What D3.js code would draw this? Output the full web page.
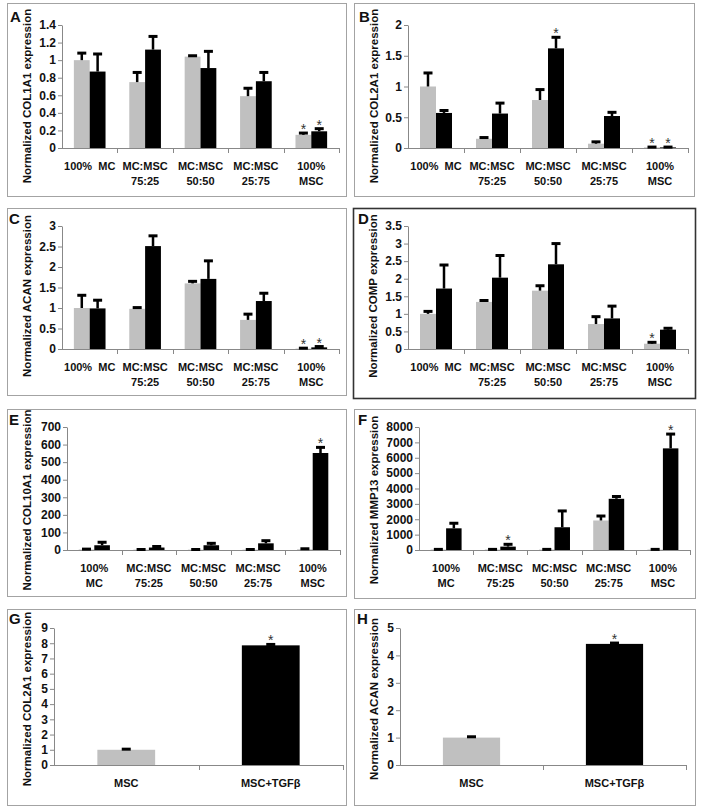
<!DOCTYPE html>
<html><head><meta charset="utf-8">
<script src="https://cdn.jsdelivr.net/npm/d3@7"></script>
<style>
body{margin:0;background:#fff}
svg{display:block}
text{font-family:Arial,"Liberation Sans",sans-serif}
</style>
</head><body>
<svg id="chart" width="701" height="809"></svg>
<script>
// ---------- categories ----------
const catsMixA = [["100%  MC"],["MC:MSC","75:25"],["MC:MSC","50:50"],["MC:MSC","25:75"],["100%","MSC"]];
const catsMixE = [["100%","MC"],["MC:MSC","75:25"],["MC:MSC","50:50"],["MC:MSC","25:75"],["100%","MSC"]];
const catsTGF = [["MSC"],["MSC+TGFβ"]];

// ---------- A: COL1A1 ----------
const aGrey = [1.00, 0.75, 1.04, 0.59, 0.15];
const aGreyErr = [0.08, 0.11, 0.01, 0.09, 0.02];
const aBlack = [0.87, 1.12, 0.91, 0.76, 0.19];
const aBlackErr = [0.20, 0.15, 0.19, 0.10, 0.03];
const aGreyStar = [0,0,0,0,1];
const aBlackStar = [0,0,0,0,1];
const aTicks = [0,0.2,0.4,0.6,0.8,1,1.2,1.4];
const aTickLabels = ["0","0.2","0.4","0.6","0.8","1","1.2","1.4"];

// ---------- B: COL2A1 ----------
const bGrey = [1.00, 0.15, 0.78, 0.07, 0.01];
const bGreyErr = [0.22, 0.02, 0.17, 0.03, 0.005];
const bBlack = [0.57, 0.56, 1.62, 0.52, 0.01];
const bBlackErr = [0.04, 0.17, 0.18, 0.06, 0.005];
const bGreyStar = [0,0,0,0,1];
const bBlackStar = [0,0,1,0,1];
const bTicks = [0,0.5,1,1.5,2];
const bTickLabels = ["0","0.5","1","1.5","2"];

// ---------- C: ACAN ----------
const cGrey = [1.00, 0.98, 1.60, 0.71, 0.01];
const cGreyErr = [0.31, 0.03, 0.05, 0.14, 0.01];
const cBlack = [0.99, 2.51, 1.71, 1.17, 0.04];
const cBlackErr = [0.20, 0.25, 0.44, 0.19, 0.02];
const cGreyStar = [0,0,0,0,1];
const cBlackStar = [0,0,0,0,1];
const cTicks = [0,0.5,1,1.5,2,2.5,3];
const cTickLabels = ["0","0.5","1","1.5","2","2.5","3"];

// ---------- D: COMP ----------
const dGrey = [1.00, 1.34, 1.66, 0.71, 0.15];
const dGreyErr = [0.07, 0.04, 0.14, 0.21, 0.04];
const dBlack = [1.72, 2.03, 2.41, 0.87, 0.55];
const dBlackErr = [0.67, 0.63, 0.59, 0.35, 0.04];
const dGreyStar = [0,0,0,0,1];
const dBlackStar = [0,0,0,0,0];
const dTicks = [0,0.5,1,1.5,2,2.5,3,3.5];
const dTickLabels = ["0","0.5","1","1.5","2","2.5","3","3.5"];

// ---------- E: COL10A1 ----------
const eGrey = [3, 2, 2, 2, 4];
const eGreyErr = [2, 1, 1, 1, 3];
const eBlack = [27, 14, 27, 38, 552];
const eBlackErr = [17, 6, 11, 15, 32];
const eGreyStar = [0,0,0,0,0];
const eBlackStar = [0,0,0,0,1];
const eTicks = [0,100,200,300,400,500,600,700];
const eTickLabels = ["0","100","200","300","400","500","600","700"];

// ---------- F: MMP13 ----------
const fGrey = [30, 30, 30, 1920, 30];
const fGreyErr = [10, 10, 10, 290, 10];
const fBlack = [1410, 220, 1480, 3330, 6610];
const fBlackErr = [330, 150, 1060, 150, 930];
const fGreyStar = [0,0,0,0,0];
const fBlackStar = [0,1,0,0,1];
const fTicks = [0,1000,2000,3000,4000,5000,6000,7000,8000];
const fTickLabels = ["0","1000","2000","3000","4000","5000","6000","7000","8000"];

// ---------- G: COL2A1 (TGFβ) ----------
const gValues = [1.00, 7.86];
const gErr = [0.04, 0.06];
const gStar = [0,1];
const gTicks = [0,1,2,3,4,5,6,7,8,9];
const gTickLabels = ["0","1","2","3","4","5","6","7","8","9"];

// ---------- H: ACAN (TGFβ) ----------
const hValues = [1.00, 4.42];
const hErr = [0.03, 0.03];
const hStar = [0,1];
const hTicks = [0,1,2,3,4,5];
const hTickLabels = ["0","1","2","3","4","5"];

const GREY = "#c0c0c0", BLACK = "#000000";

function pair(gv, ge, gs, bv, be, bs) {
  return [
    {color: GREY, values: gv, errs: ge, stars: gs},
    {color: BLACK, values: bv, errs: be, stars: bs}
  ];
}

const panels = [
  {letter:"A", title:"Normalized COL1A1 expression", box:[7,3,346,196], plot:[62,339,25,148], letterPos:[10,22], titleY:96,
   cats:catsMixA, ticks:aTicks, tickLabels:aTickLabels, series:pair(aGrey,aGreyErr,aGreyStar,aBlack,aBlackErr,aBlackStar)},
  {letter:"B", title:"Normalized COL2A1 expression", box:[354,3,694,196], plot:[408,688,25,148], letterPos:[359,22], titleY:96,
   cats:catsMixA, ticks:bTicks, tickLabels:bTickLabels, series:pair(bGrey,bGreyErr,bGreyStar,bBlack,bBlackErr,bBlackStar)},
  {letter:"C", title:"Normalized ACAN expression", box:[7,208,346,395], plot:[62,339,226,349], letterPos:[9,224], titleY:296,
   cats:catsMixA, ticks:cTicks, tickLabels:cTickLabels, series:pair(cGrey,cGreyErr,cGreyStar,cBlack,cBlackErr,cBlackStar)},
  {letter:"D", title:"Normalized COMP expression", box:[353,208,695,398], plot:[408,688,226,349], letterPos:[358,224], titleY:296, dark:true,
   cats:catsMixA, ticks:dTicks, tickLabels:dTickLabels, series:pair(dGrey,dGreyErr,dGreyStar,dBlack,dBlackErr,dBlackStar)},
  {letter:"E", title:"Normalized COL10A1 expression", box:[7,409,346,596], plot:[67,340,427,550], letterPos:[9,425], titleY:500,
   cats:catsMixE, ticks:eTicks, tickLabels:eTickLabels, series:pair(eGrey,eGreyErr,eGreyStar,eBlack,eBlackErr,eBlackStar)},
  {letter:"F", title:"Normalized MMP13 expression", box:[354,409,695,598], plot:[419,690,427,550], letterPos:[358,425], titleY:500,
   cats:catsMixE, ticks:fTicks, tickLabels:fTickLabels, series:pair(fGrey,fGreyErr,fGreyStar,fBlack,fBlackErr,fBlackStar)},
  {letter:"G", title:"Normalized COL2A1 expression", box:[7,609,346,805], plot:[54,343,628,765], letterPos:[9,624], titleY:699,
   cats:catsTGF, ticks:gTicks, tickLabels:gTickLabels, single:{values:gValues, errs:gErr, stars:gStar, colors:[GREY,BLACK]}},
  {letter:"H", title:"Normalized ACAN expression", box:[354,609,695,805], plot:[400,686,628,765], letterPos:[357,624], titleY:699,
   cats:catsTGF, ticks:hTicks, tickLabels:hTickLabels, single:{values:hValues, errs:hErr, stars:hStar, colors:[GREY,BLACK]}}
];

const svg = d3.select("#chart");
svg.append("rect").attr("width",701).attr("height",809).attr("fill","#fff");

panels.forEach(p => {
  const g = svg.append("g");
  const [bx0,by0,bx1,by1] = p.box;
  g.append("rect").attr("x",bx0+0.5).attr("y",by0+0.5).attr("width",bx1-bx0).attr("height",by1-by0)
    .attr("fill","none").attr("stroke", p.dark ? "#333" : "#a3a3a3").attr("stroke-width", p.dark ? 1.6 : 1);

  const [x0,x1,yTop,y0] = p.plot;
  const yMax = p.ticks[p.ticks.length-1];
  const y = d3.scaleLinear().domain([0,yMax]).range([y0,yTop]);
  const n = p.cats.length;
  const nSeries = p.single ? 1 : 2;
  const gapRatio = 1.5/(nSeries+1.5);
  const x = d3.scaleBand().domain(d3.range(n)).range([x0,x1]).paddingInner(gapRatio).paddingOuter(gapRatio/2);
  const xs = d3.scaleBand().domain(d3.range(nSeries)).range([0,x.bandwidth()]);

  const bars = [];
  if (p.single) {
    p.single.values.forEach((v,i) => bars.push({cat:i, s:0, v, e:p.single.errs[i], star:p.single.stars[i], color:p.single.colors[i]}));
  } else {
    p.series.forEach((s,si) => s.values.forEach((v,i) => bars.push({cat:i, s:si, v, e:s.errs[i], star:s.stars[i], color:s.color})));
  }

  g.selectAll("rect.bar").data(bars).enter().append("rect").attr("class","bar")
    .attr("x", d => x(d.cat)+xs(d.s)).attr("width", xs.bandwidth())
    .attr("y", d => y(d.v)).attr("height", d => y(0)-y(d.v)).attr("fill", d => d.color);

  const yAxis = d3.axisLeft(y).tickValues(p.ticks).tickSize(4).tickSizeOuter(0).tickPadding(2)
    .tickFormat((d,i) => p.tickLabels[i]);
  const ya = g.append("g").attr("transform",`translate(${x0},0)`).call(yAxis);
  ya.select(".domain").attr("stroke","#888").attr("stroke-width",1);
  ya.selectAll(".tick line").attr("stroke","#888");
  ya.selectAll(".tick text").attr("fill","#111").attr("font-size",12).attr("font-weight","bold")
    .attr("font-family","Arial, 'Liberation Sans', sans-serif");

  g.append("line").attr("x1",x0).attr("x2",x1).attr("y1",y0+0.5).attr("y2",y0+0.5).attr("stroke","#888");
  const bounds = d3.range(n+1).map(i => x0 + i*x.step());
  g.selectAll("line.xt").data(bounds.slice(1)).enter().append("line")
    .attr("x1",d=>Math.round(d)+0.5).attr("x2",d=>Math.round(d)+0.5).attr("y1",y0).attr("y2",y0+5).attr("stroke","#888");

  const cl = g.selectAll("text.cat").data(p.cats).enter().append("text")
    .attr("text-anchor","middle").attr("font-size",11).attr("font-weight","bold").attr("fill","#111");
  cl.each(function(lines,i){
    const t = d3.select(this);
    lines.forEach((ln,k) => t.append("tspan").attr("x", x(i)+x.bandwidth()/2).attr("y", y0+22+k*14.5)
      .attr("xml:space","preserve").text(ln));
  });

  const eb = g.selectAll("g.err").data(bars.filter(d => d.e>0)).enter().append("g");
  eb.append("line").attr("x1",d=>x(d.cat)+xs(d.s)+xs.bandwidth()/2).attr("x2",d=>x(d.cat)+xs(d.s)+xs.bandwidth()/2)
    .attr("y1",d=>y(d.v)).attr("y2",d=>y(d.v+d.e)).attr("stroke","#000").attr("stroke-width",2.5);
  eb.append("line").attr("x1",d=>x(d.cat)+xs(d.s)+xs.bandwidth()/2-4.5).attr("x2",d=>x(d.cat)+xs(d.s)+xs.bandwidth()/2+4.5)
    .attr("y1",d=>y(d.v+d.e)).attr("y2",d=>y(d.v+d.e)).attr("stroke","#000").attr("stroke-width",3);

  g.selectAll("text.star").data(bars.filter(d=>d.star)).enter().append("text")
    .attr("x",d=>x(d.cat)+xs(d.s)+xs.bandwidth()/2).attr("y",d=>y(d.v+d.e)+1)
    .attr("text-anchor","middle").attr("font-size",14).attr("fill","#333").text("*");

  g.append("text").attr("transform",`translate(${bx0+24},${p.titleY}) rotate(-90)`)
    .attr("text-anchor","middle").attr("font-size",11.5).attr("font-weight","bold").attr("fill","#111").text(p.title);

  g.append("text").attr("x",p.letterPos[0]).attr("y",p.letterPos[1]).attr("font-size",15).attr("font-weight","bold")
    .attr("fill","#111").text(p.letter);
});
</script>
</body></html>
